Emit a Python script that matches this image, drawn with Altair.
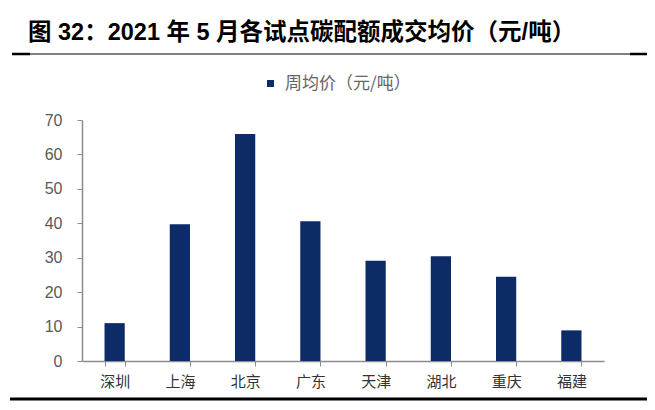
import altair as alt
import pandas as pd

cities = ["深圳", "上海", "北京", "广东", "天津", "湖北", "重庆", "福建"]
prices = [11.0, 39.7, 65.9, 40.6, 29.1, 30.4, 24.5, 8.9]
series_name = "周均价（元/吨）"
y_ticks = [0, 10, 20, 30, 40, 50, 60, 70]
title_text = "图 32：2021 年 5 月各试点碳配额成交均价（元/吨）"

df = pd.DataFrame({"city": cities, "price": prices, "series": [series_name] * len(cities)})

W, H = 522, 241
CJK = "Noto Sans CJK SC"
LAT = "Liberation Sans, Arial, Noto Sans CJK SC"

bars = alt.Chart(df).mark_bar(color="#0D2B66").encode(
    x=alt.X("city:N", sort=cities,
            scale=alt.Scale(paddingInner=0.69, paddingOuter=0.345),
            axis=alt.Axis(title=None, labelAngle=0, labelFont=CJK, labelFontSize=15,
                          labelColor="#333333", labelPadding=8, tickBand="extent",
                          tickSize=5, tickColor="#8c8c8c", domainColor="#8c8c8c",
                          domainWidth=1.5, tickWidth=1)),
    y=alt.Y("price:Q", scale=alt.Scale(domain=[0, 70], nice=False),
            axis=alt.Axis(title=None, values=y_ticks, labelFont=LAT, labelFontSize=16,
                          labelColor="#595959", labelPadding=15, tickSize=5,
                          tickColor="#8c8c8c", domainColor="#8c8c8c", domainWidth=1.5,
                          grid=False)),
    color=alt.Color("series:N", scale=alt.Scale(domain=[series_name], range=["#0D2B66"]),
                    legend=alt.Legend(orient="none", legendX=180, legendY=-45, title=None,
                                      symbolType="square", symbolSize=49, symbolStrokeWidth=0,
                                      labelFont=CJK, labelFontSize=17, labelColor="#666666",
                                      labelOffset=6, padding=0)),
)

def hline(x0, x1, y, w):
    return alt.Chart(df.head(1)).mark_rule(color="black", strokeWidth=w).encode(
        x=alt.value(x0), x2=alt.value(x1), y=alt.value(y))

top_line = hline(-70, 565, -113, 2)
under_line = hline(-70, 565, -66, 1)
under_left = hline(-70, -52, -66, 2.5)
under_right = hline(548, 565, -66, 2.5)
bottom_line = hline(-72, 565, 279, 3)

title = alt.Chart(pd.DataFrame({"t": [title_text]})).mark_text(
    align="left", baseline="middle", fontSize=23.5, fontWeight="bold",
    font="Liberation Sans, Arial, Noto Sans CJK SC", color="black"
).encode(text="t:N", x=alt.value(-54), y=alt.value(-87))

chart = alt.layer(bars, top_line, under_line, under_left, under_right, bottom_line, title).properties(
    width=W, height=H,
    autosize=alt.AutoSizeParams(type="none"),
    padding={"left": 74, "top": 112, "right": 43, "bottom": 41},
).configure_view(stroke=None)

chart.save("out.html", embed_options={"renderer": "svg", "actions": False})
